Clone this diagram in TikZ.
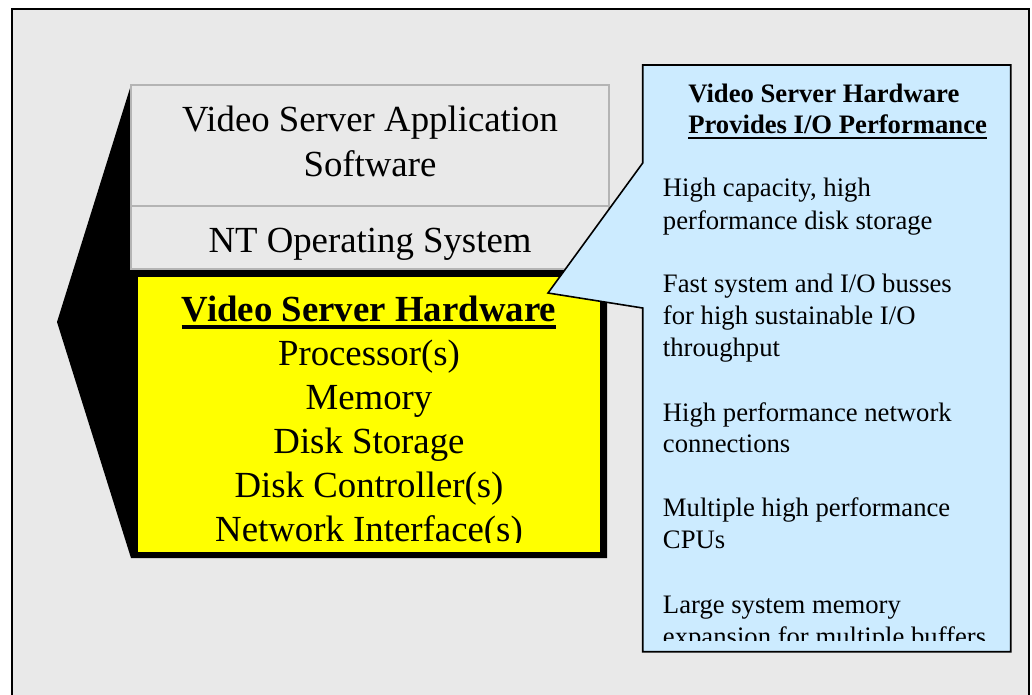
\documentclass[tikz,border=0pt]{standalone}
\usepackage{fontspec}
\setmainfont{Liberation Serif}
\definecolor{panelgray}{RGB}{233,233,233}
\definecolor{boxedge}{RGB}{180,180,180}
\definecolor{hwyellow}{RGB}{255,255,0}
\definecolor{noteblue}{RGB}{204,235,255}
\tikzset{
  layerbox/.style={draw=boxedge, line width=1.5pt, fill=panelgray},
  bigtext/.style={inner sep=0pt, anchor=base, font=\fontsize{27.6pt}{33pt}\selectfont},
  bigbold/.style={bigtext, font=\fontsize{27.6pt}{33pt}\selectfont\bfseries},
  notetext/.style={inner sep=0pt, anchor=base west, font=\fontsize{20pt}{24pt}\selectfont},
  notebold/.style={notetext, font=\fontsize{20pt}{24pt}\selectfont\bfseries},
}
\begin{document}
\begin{tikzpicture}[x=0.75pt, y=-0.75pt, line join=miter]
\useasboundingbox (0,0) rectangle (1032,694);
% page panel
\draw[fill=panelgray, line width=1.5pt] (12,9) rectangle (1029,720);

% black arrow-shaped backing of the layer stack
\fill[black] (131,85) -- (57,322) -- (131,558) -- (607,558) -- (607,269) -- (131,269) -- cycle;

% software layers
\draw[layerbox] (131,85) rectangle (609,206);
\draw[layerbox] (131,206) rectangle (609,269);
\node[bigtext] (app1) at (370,131.7) {Video Server Application};
\node[bigtext] (app2) at (370,176) {Software};
\node[bigtext] (os) at (370,252.7) {NT Operating System};

% hardware layer
\fill[hwyellow] (137.6,277) rectangle (600,552);
\node[bigbold] (hw) at (369,321.7) {Video Server Hardware};
\draw[line width=3pt] ([yshift=-4.2pt]hw.base west) -- ([yshift=-4.2pt]hw.base east);
\begin{scope}
  \clip (137.6,277) rectangle (600,542);
  \node[bigtext] (cpu) at (369,365) {Processor(s)};
  \node[bigtext] (mem) at (369,409) {Memory};
  \node[bigtext] (disk) at (369,453) {Disk Storage};
  \node[bigtext] (ctrl) at (369,497) {Disk Controller(s)};
  \node[bigtext] (nic) at (369,541) {Network Interface(s)};
\end{scope}

% callout
\draw[fill=noteblue, line width=1.2pt]
  (642.7,65) -- (1010.7,65) -- (1010.7,651.7) -- (642.7,651.7)
  -- (642.7,308) -- (548,293) -- (642.7,163) -- cycle;
\node[notebold] (t1) at (688,102.3) {Video Server Hardware};
\node[notebold] (t2) at (688,133.3) {Provides I/O Performance};
\draw[line width=1.8pt] ([yshift=-3.6pt]t2.base west) -- ([yshift=-3.6pt]t2.base east);
\begin{scope}
  \clip (643,65) rectangle (1010,640);
  \node[notetext] (a1) at (662.7,196.7) {High capacity, high};
  \node[notetext] (a2) at (662.7,229) {performance disk storage};
  \node[notetext] (b1) at (662.7,292.7) {Fast system and I/O busses};
  \node[notetext] (b2) at (662.7,324.3) {for high sustainable I/O};
  \node[notetext] (b3) at (662.7,356.7) {throughput};
  \node[notetext] (c1) at (662.7,421) {High performance network};
  \node[notetext] (c2) at (662.7,452.7) {connections};
  \node[notetext] (d1) at (662.7,516.7) {Multiple high performance};
  \node[notetext] (d2) at (662.7,548.3) {CPUs};
  \node[notetext] (e1) at (662.7,613.3) {Large system memory};
  \node[notetext] (e2) at (662.7,645) {expansion for multiple buffers};
\end{scope}
\end{tikzpicture}
\end{document}
